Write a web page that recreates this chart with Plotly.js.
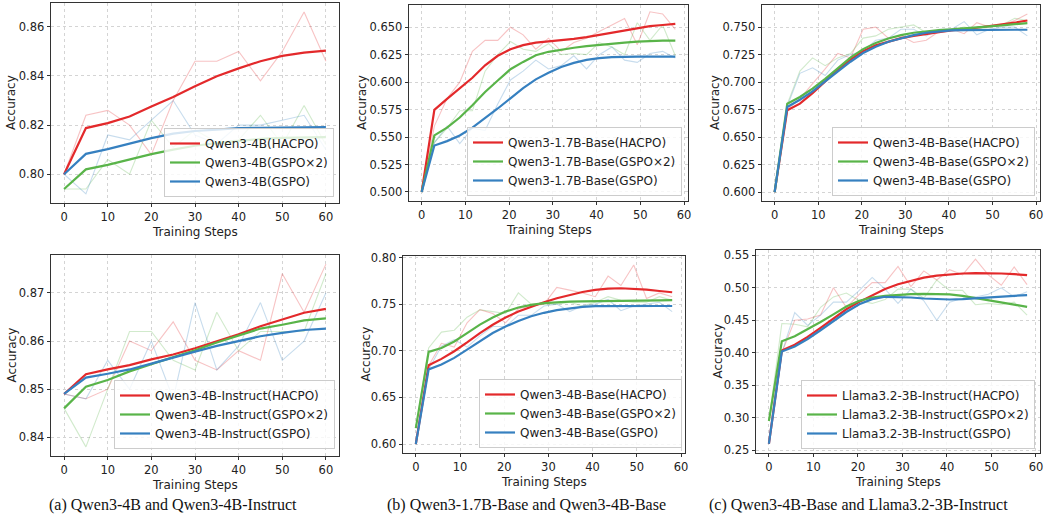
<!DOCTYPE html>
<html>
<head>
<meta charset="utf-8">
<script src="https://cdn.plot.ly/plotly-3.0.1.min.js"></script>
<style>html,body{margin:0;padding:0;background:#fff;}#chart{width:1045px;height:518px;}</style>
</head>
<body>
<div id="chart"></div>
<script>
// ---------- shared ----------
const methods = ["HACPO", "GSPO×2", "GSPO"];
const stepsA = [0,5,10,15,20,25,30,35,40,45,50,55,60];
const stepsBC = [0,2.9,5.8,8.7,11.6,14.5,17.4,20.3,23.2,26.1,29,31.9,34.8,37.7,40.6,43.5,46.4,49.3,52.2,55.1,58];
const captions = ["(a) Qwen3-4B and Qwen3-4B-Instruct", "(b) Qwen3-1.7B-Base and Qwen3-4B-Base", "(c) Qwen3-4B-Base and Llama3.2-3B-Instruct"];
const modelNames = ["Qwen3-4B", "Qwen3-1.7B-Base", "Qwen3-4B-Base", "Qwen3-4B-Instruct", "Qwen3-4B-Base", "Llama3.2-3B-Instruct"];
const xTitle = "Training Steps";
const yTitle = "Accuracy";

// ---------- panel 1: Qwen3-4B ----------
const p1RawHACPO = [0.800,0.824,0.826,0.820,0.808,0.830,0.846,0.846,0.850,0.838,0.850,0.866,0.846];
const p1RawGSPO2 = [0.794,0.794,0.806,0.800,0.822,0.811,0.818,0.813,0.814,0.824,0.812,0.828,0.812];
const p1RawGSPO  = [0.800,0.792,0.816,0.814,0.822,0.830,0.816,0.8124,0.820,0.820,0.822,0.824,0.810];
const p1SmHACPO = [0.800,0.8188,0.8208,0.8235,0.8276,0.8314,0.8358,0.8399,0.8431,0.8460,0.8482,0.8495,0.8503];
const p1SmGSPO2 = [0.794,0.8020,0.8038,0.8060,0.8082,0.8100,0.8116,0.8127,0.8137,0.8144,0.8148,0.8150,0.8151];
const p1SmGSPO  = [0.800,0.8083,0.8102,0.8124,0.8147,0.8165,0.8176,0.8182,0.8188,0.8189,0.8190,0.8192,0.8192];

// ---------- panel 2: Qwen3-1.7B-Base ----------
const p2RawHACPO = [0.500,0.560,0.585,0.600,0.628,0.638,0.638,0.650,0.643,0.630,0.640,0.628,0.636,0.640,0.646,0.652,0.658,0.634,0.664,0.662,0.648];
const p2RawGSPO2 = [0.500,0.545,0.558,0.574,0.574,0.610,0.625,0.637,0.630,0.628,0.635,0.625,0.626,0.625,0.636,0.632,0.625,0.654,0.638,0.652,0.624];
const p2RawGSPO  = [0.500,0.545,0.560,0.544,0.558,0.556,0.580,0.602,0.610,0.620,0.612,0.615,0.624,0.612,0.625,0.632,0.620,0.618,0.626,0.628,0.622];
const p2SmHACPO = [0.500,0.5748,0.5847,0.5940,0.6040,0.6153,0.6240,0.6300,0.6337,0.6360,0.6370,0.6380,0.6393,0.6410,0.6430,0.6450,0.6470,0.6490,0.6510,0.6520,0.6530];
const p2SmGSPO2 = [0.500,0.5515,0.5586,0.5678,0.5790,0.5910,0.6015,0.6117,0.6184,0.6245,0.6276,0.6297,0.6313,0.6328,0.6340,0.6353,0.6360,0.6368,0.6374,0.6377,0.6377];
const p2SmGSPO  = [0.500,0.5423,0.5463,0.5515,0.5586,0.5669,0.5760,0.5853,0.5945,0.6025,0.6086,0.6138,0.6175,0.6202,0.6218,0.6227,0.6232,0.6233,0.6233,0.6233,0.6233];

// ---------- panel 3: Qwen3-4B-Base ----------
const p3RawHACPO = [0.600,0.675,0.685,0.698,0.712,0.726,0.722,0.748,0.750,0.740,0.742,0.736,0.738,0.746,0.748,0.744,0.754,0.750,0.752,0.756,0.762];
const p3RawGSPO2 = [0.600,0.680,0.710,0.722,0.715,0.722,0.726,0.740,0.742,0.748,0.750,0.752,0.745,0.746,0.748,0.750,0.748,0.750,0.752,0.758,0.756];
const p3RawGSPO  = [0.600,0.678,0.708,0.713,0.706,0.720,0.725,0.728,0.738,0.740,0.748,0.748,0.742,0.748,0.748,0.755,0.743,0.748,0.750,0.750,0.742];
const p3SmHACPO = [0.600,0.6745,0.6804,0.6900,0.7007,0.7113,0.7204,0.7282,0.7334,0.7370,0.7400,0.7421,0.7440,0.7455,0.7470,0.7480,0.7494,0.7510,0.7524,0.7540,0.7560];
const p3SmGSPO2 = [0.600,0.6804,0.6865,0.6940,0.7030,0.7128,0.7222,0.7300,0.7355,0.7397,0.7427,0.7449,0.7464,0.7473,0.7480,0.7488,0.7497,0.7506,0.7515,0.7527,0.7536];
const p3SmGSPO  = [0.600,0.6774,0.6840,0.6916,0.7007,0.7100,0.7185,0.7264,0.7322,0.7367,0.7400,0.7427,0.7449,0.7460,0.7470,0.7473,0.7475,0.7476,0.7476,0.7476,0.7476];

// ---------- panel 4: Qwen3-4B-Instruct ----------
const p4RawHACPO = [0.849,0.848,0.850,0.860,0.858,0.864,0.856,0.854,0.858,0.856,0.874,0.866,0.876];
const p4RawGSPO2 = [0.846,0.838,0.850,0.862,0.862,0.856,0.854,0.866,0.858,0.862,0.862,0.862,0.874];
const p4RawGSPO  = [0.849,0.848,0.856,0.850,0.860,0.848,0.868,0.854,0.859,0.868,0.856,0.860,0.870];
const p4SmHACPO = [0.849,0.8531,0.8541,0.8550,0.8562,0.8572,0.8585,0.8599,0.8614,0.8631,0.8645,0.8659,0.8667];
const p4SmGSPO2 = [0.846,0.8505,0.8519,0.8537,0.8552,0.8566,0.8581,0.8597,0.8612,0.8626,0.8634,0.8643,0.8647];
const p4SmGSPO  = [0.849,0.8524,0.8532,0.8541,0.8553,0.8566,0.8578,0.8590,0.8600,0.8610,0.8617,0.8623,0.8626];

// ---------- panel 5: Qwen3-4B-Base ----------
const p5RawHACPO = [0.600,0.684,0.708,0.704,0.730,0.744,0.740,0.730,0.745,0.748,0.750,0.768,0.765,0.762,0.758,0.780,0.770,0.792,0.756,0.762,0.758];
const p5RawGSPO2 = [0.617,0.703,0.720,0.722,0.736,0.744,0.742,0.740,0.762,0.750,0.750,0.750,0.752,0.748,0.752,0.758,0.754,0.752,0.752,0.758,0.754];
const p5RawGSPO  = [0.600,0.680,0.705,0.712,0.704,0.716,0.726,0.726,0.738,0.738,0.748,0.750,0.742,0.748,0.750,0.755,0.743,0.748,0.750,0.752,0.742];
const p5SmHACPO = [0.600,0.6845,0.6913,0.6995,0.7090,0.7190,0.7279,0.7357,0.7420,0.7474,0.7520,0.7563,0.7598,0.7630,0.7652,0.7666,0.7670,0.7666,0.7655,0.7641,0.7627];
const p5SmGSPO2 = [0.617,0.6988,0.7030,0.7100,0.7190,0.7280,0.7357,0.7420,0.7464,0.7492,0.7510,0.7520,0.7527,0.7530,0.7533,0.7535,0.7537,0.7539,0.7540,0.7541,0.7542];
const p5SmGSPO  = [0.600,0.6800,0.6853,0.6924,0.7012,0.7101,0.7190,0.7260,0.7320,0.7370,0.7407,0.7435,0.7456,0.7470,0.7478,0.7480,0.7480,0.7480,0.7480,0.7480,0.7480];

// ---------- panel 6: Llama3.2-3B-Instruct ----------
const p6RawHACPO = [0.260,0.400,0.450,0.452,0.458,0.500,0.470,0.490,0.508,0.508,0.533,0.502,0.526,0.512,0.528,0.520,0.544,0.520,0.504,0.532,0.505];
const p6RawGSPO2 = [0.295,0.445,0.444,0.440,0.470,0.486,0.492,0.480,0.476,0.482,0.498,0.498,0.484,0.512,0.496,0.496,0.474,0.476,0.474,0.478,0.458];
const p6RawGSPO  = [0.260,0.400,0.462,0.442,0.458,0.478,0.478,0.496,0.516,0.498,0.476,0.498,0.480,0.450,0.478,0.484,0.486,0.490,0.500,0.486,0.494];
const p6SmHACPO = [0.260,0.4036,0.4125,0.4244,0.4384,0.4524,0.4670,0.4784,0.4888,0.4981,0.5054,0.5111,0.5157,0.5189,0.5210,0.5220,0.5225,0.5225,0.5220,0.5210,0.5194];
const p6SmGSPO2 = [0.295,0.4177,0.4255,0.4358,0.4473,0.4592,0.4711,0.4800,0.4851,0.4877,0.4893,0.4903,0.4908,0.4908,0.4898,0.4877,0.4846,0.4815,0.4784,0.4742,0.4706];
const p6SmGSPO  = [0.260,0.4020,0.4098,0.4213,0.4347,0.4488,0.4628,0.4748,0.4826,0.4862,0.4862,0.4851,0.4836,0.4826,0.4820,0.4826,0.4836,0.4851,0.4867,0.4877,0.4888];

// ---------- build ----------
const W = 1045, H = 518;
const colors = ["#e3292b", "#59b449", "#3680c0"];
const panels = [
  {x: stepsA,  raw: [p1RawHACPO,p1RawGSPO2,p1RawGSPO], sm: [p1SmHACPO,p1SmGSPO2,p1SmGSPO], box:[51,339,3,203],  xr:[-3,63],     yr:[0.7883,0.8697], dt:0.02,  fmt:".2f", leg:[334,197], yt:11,  xt:232},
  {x: stepsBC, raw: [p2RawHACPO,p2RawGSPO2,p2RawGSPO], sm: [p2SmHACPO,p2SmGSPO2,p2SmGSPO], box:[409,688,5,201], xr:[-2.9,60.9], yr:[0.4918,0.6702], dt:0.025, fmt:".3f", leg:[682,196], yt:362, xt:230},
  {x: stepsBC, raw: [p3RawHACPO,p3RawGSPO2,p3RawGSPO], sm: [p3SmHACPO,p3SmGSPO2,p3SmGSPO], box:[762,1040,5,201], xr:[-2.9,60.9], yr:[0.5919,0.7701], dt:0.025, fmt:".3f", leg:[1035,196], yt:715, xt:230},
  {x: stepsA,  raw: [p4RawHACPO,p4RawGSPO2,p4RawGSPO], sm: [p4SmHACPO,p4SmGSPO2,p4SmGSPO], box:[51,339,255,456], xr:[-3,63],     yr:[0.8361,0.8779], dt:0.01,  fmt:".2f", leg:[335,449], yt:11, xt:485},
  {x: stepsBC, raw: [p5RawHACPO,p5RawGSPO2,p5RawGSPO], sm: [p5SmHACPO,p5SmGSPO2,p5SmGSPO], box:[403,685,256,453], xr:[-2.9,60.9], yr:[0.5904,0.8016], dt:0.05, fmt:".2f", leg:[682,448], yt:365, xt:482},
  {x: stepsBC, raw: [p6RawHACPO,p6RawGSPO2,p6RawGSPO], sm: [p6SmHACPO,p6SmGSPO2,p6SmGSPO], box:[756,1040,250,453], xr:[-2.9,60.9], yr:[0.2458,0.5582], dt:0.05, fmt:".2f", leg:[1035,449], yt:717, xt:482}
];

const data = [];
const layout = {
  width: W, height: H,
  margin: {l:0, r:0, t:0, b:0},
  paper_bgcolor: "#ffffff", plot_bgcolor: "#ffffff",
  font: {family: "DejaVu Sans, sans-serif", size: 12, color: "#222"},
  annotations: [],
  showlegend: true
};
const font = "DejaVu Sans, sans-serif";

panels.forEach((p, i) => {
  const n = i + 1;
  const xa = n === 1 ? "xaxis" : "xaxis" + n;
  const ya = n === 1 ? "yaxis" : "yaxis" + n;
  const xr = n === 1 ? "x" : "x" + n;
  const yr = n === 1 ? "y" : "y" + n;
  const lg = n === 1 ? "legend" : "legend" + n;
  for (let k = 0; k < 3; k++) {
    data.push({x: p.x, y: p.raw[k], xaxis: xr, yaxis: yr, mode: "lines", type: "scatter",
      line: {color: colors[k], width: 1.1}, opacity: 0.28, showlegend: false, hoverinfo: "skip"});
  }
  for (let k = 0; k < 3; k++) {
    data.push({x: p.x, y: p.sm[k], xaxis: xr, yaxis: yr, mode: "lines", type: "scatter",
      name: modelNames[i] + "(" + methods[k] + ")", legend: lg,
      line: {color: colors[k], width: 2.2}, showlegend: true});
  }
  const axCommon = {
    showline: true, mirror: true, linecolor: "#333", linewidth: 1.3,
    ticks: "outside", ticklen: 3, tickcolor: "#333", tickwidth: 1,
    showgrid: true, gridcolor: "#d4d4d4", griddash: "dot", gridwidth: 1,
    zeroline: false, tickfont: {family: font, size: 11.5, color: "#222"}
  };
  layout[xa] = Object.assign({}, axCommon, {
    domain: [p.box[0] / W, p.box[1] / W], range: p.xr, tickmode: "linear", tick0: 0, dtick: 10,
    anchor: yr
  });
  layout[ya] = Object.assign({}, axCommon, {
    domain: [1 - p.box[3] / H, 1 - p.box[2] / H], range: p.yr, tickmode: "linear", tick0: 0, dtick: p.dt,
    tickformat: p.fmt, anchor: xr
  });
  layout[lg] = {
    x: p.leg[0] / W, y: 1 - p.leg[1] / H, xanchor: "right", yanchor: "bottom",
    xref: "paper", yref: "paper",
    bgcolor: "rgba(255,255,255,0.8)", bordercolor: "#cccccc", borderwidth: 1,
    font: {family: font, size: 12, color: "#222"}, tracegroupgap: 0, itemwidth: 30
  };
  layout.annotations.push({text: xTitle, x: (p.box[0] + p.box[1]) / 2 / W, y: 1 - p.xt / H,
    xref: "paper", yref: "paper", xanchor: "center", yanchor: "middle", showarrow: false,
    font: {family: font, size: 12, color: "#222"}});
  layout.annotations.push({text: yTitle, x: p.yt / W, y: 1 - (p.box[2] + p.box[3]) / 2 / H,
    xref: "paper", yref: "paper", xanchor: "center", yanchor: "middle", showarrow: false, textangle: -90,
    font: {family: font, size: 12, color: "#222"}});
});

const capX = [173, 526, 858];
captions.forEach((c, i) => {
  layout.annotations.push({text: c, x: capX[i] / W, y: 1 - 505 / H, xref: "paper", yref: "paper",
    xanchor: "center", yanchor: "middle", showarrow: false,
    font: {family: "Liberation Serif, Times New Roman, serif", size: 16, color: "#111"}});
});

Plotly.newPlot("chart", data, layout, {staticPlot: true, displayModeBar: false});
</script>
</body>
</html>
